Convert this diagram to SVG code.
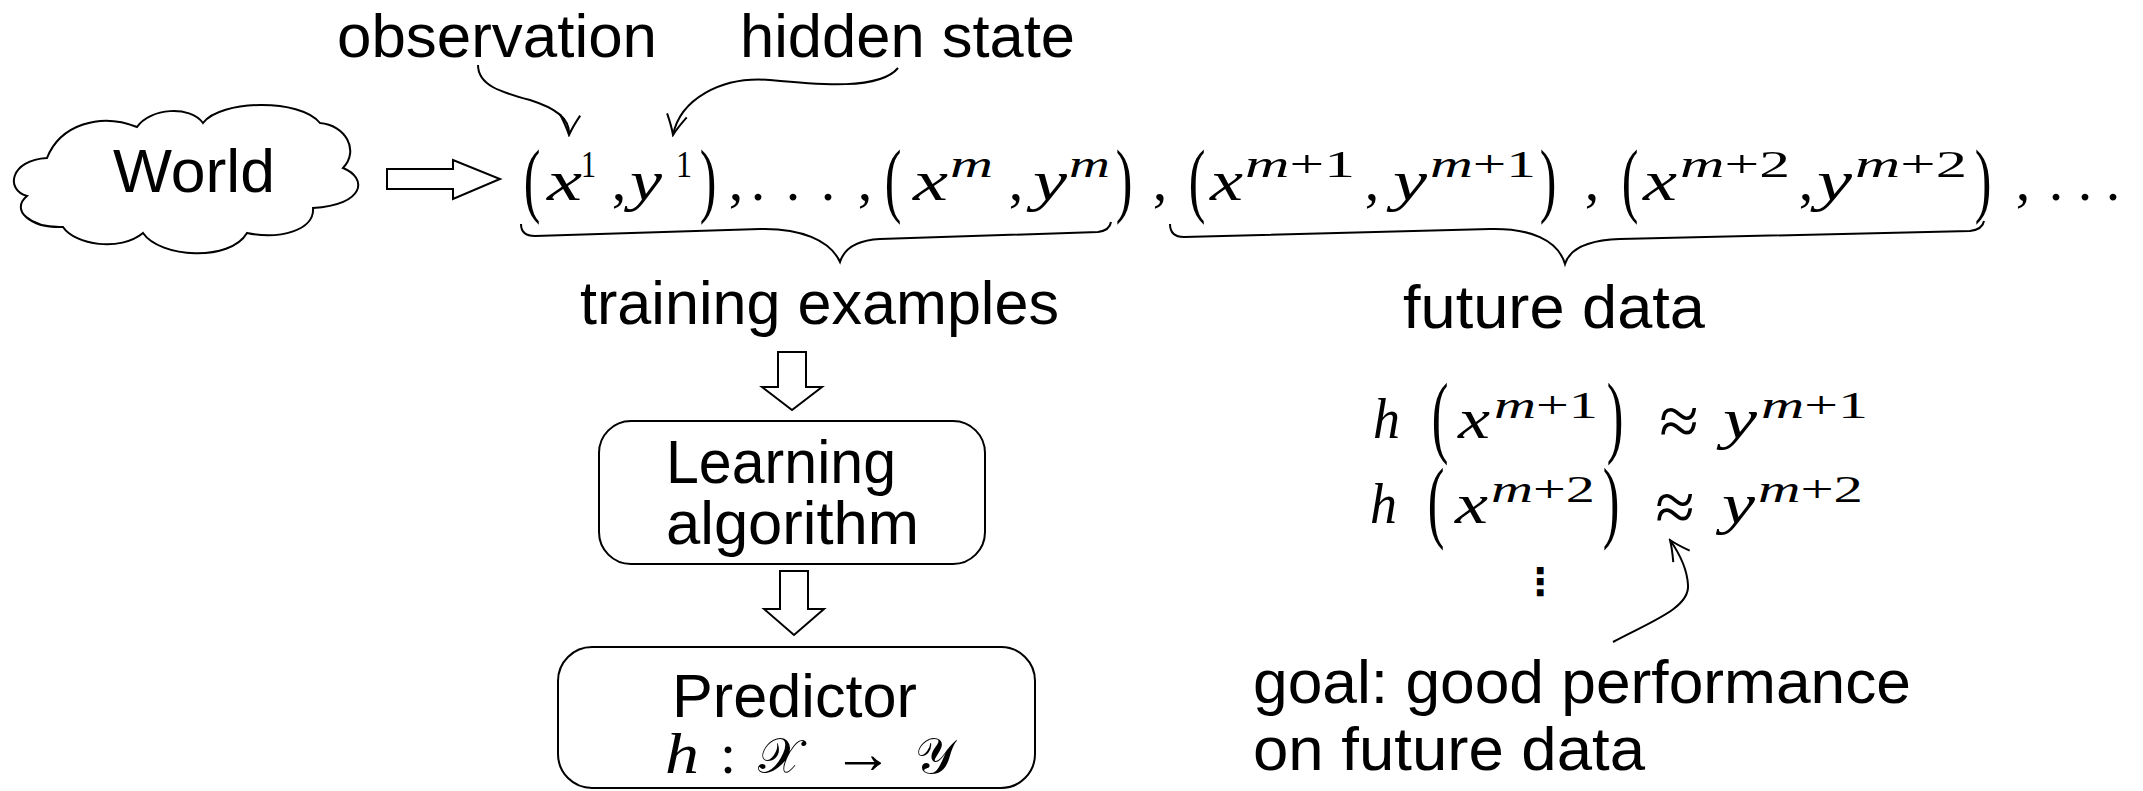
<svg xmlns="http://www.w3.org/2000/svg" width="2143" height="791" viewBox="0 0 2143 791">
<style>
.sans{font-family:'Liberation Sans',Arial,sans-serif;font-size:62px;fill:#000}
.mi{font-family:'Liberation Serif','Times New Roman',serif;font-style:italic;font-size:56px;fill:#000}
.mr{font-family:'Liberation Serif','Times New Roman',serif;font-size:58px;fill:#000}
.sup{font-family:'Liberation Serif','Times New Roman',serif;font-size:38px;fill:#000}
.supi{font-style:italic}
.par{font-family:'Liberation Serif','Times New Roman',serif;font-size:50px;fill:#000;text-anchor:middle}
.mid{text-anchor:middle}
.apx{font-family:'Liberation Serif','Times New Roman',serif;font-size:72px;fill:#000;text-anchor:middle}
.cal{font-family:'DejaVu Serif','DejaVu Sans','Liberation Serif',serif;font-size:50px;fill:#000}
.ln{fill:none;stroke:#000;stroke-width:2}
.blk{fill:#fff;stroke:#000;stroke-width:2;stroke-linejoin:miter}
.box{fill:#fff;stroke:#000;stroke-width:2}
</style>
<defs>
<marker id="ah" viewBox="-22 -12 24 24" refX="0" refY="0" markerWidth="24" markerHeight="24" markerUnits="userSpaceOnUse" orient="auto">
<path d="M-20,-10 Q-8,-3 0,0 Q-8,3 -20,10" fill="none" stroke="#000" stroke-width="2"/>
</marker>
</defs>
<rect width="2143" height="791" fill="#fff"/>

<g id="node-world">
<path class="ln" d="M47,158 C60,125 100,112 137,127 C150,108 190,105 203,123 C220,100 300,98 320,123 C345,125 360,150 343,168 C368,178 365,205 313,208 C315,230 280,240 247,233 C230,262 160,258 143,233 C120,252 75,245 63,227 C30,228 10,210 27,196 C5,190 10,160 47,158 Z"/>
<text class="sans" x="113" y="192" textLength="162" lengthAdjust="spacingAndGlyphs">World</text>
</g>

<g id="label-observation">
<text class="sans" x="337" y="57" textLength="320" lengthAdjust="spacingAndGlyphs">observation</text>
</g>
<g id="label-hidden-state">
<text class="sans" x="740" y="57" textLength="335" lengthAdjust="spacingAndGlyphs">hidden state</text>
</g>

<g id="sequence">
<text class="par" transform="translate(532,207) scale(1,1.65)">(</text>
<text class="mi" x="547" y="200" textLength="35" lengthAdjust="spacingAndGlyphs">x</text>
<text class="sup" x="581" y="177" textLength="15" lengthAdjust="spacingAndGlyphs">1</text>
<text class="mr mid" x="619" y="200">,</text>
<text class="mi" x="630" y="200" textLength="32" lengthAdjust="spacingAndGlyphs">y</text>
<text class="sup" x="676" y="177" textLength="16" lengthAdjust="spacingAndGlyphs">1</text>
<text class="par" transform="translate(708,207) scale(1,1.65)">)</text>
<text class="mr mid" x="736" y="200">,</text>
<text class="mr mid" x="758" y="200">.</text>
<text class="mr mid" x="793" y="200">.</text>
<text class="mr mid" x="828" y="200">.</text>
<text class="mr mid" x="865" y="200">,</text>
<text class="par" transform="translate(893,207) scale(1,1.65)">(</text>
<text class="mi" x="913" y="200" textLength="35" lengthAdjust="spacingAndGlyphs">x</text>
<text class="sup supi" x="950" y="177" textLength="43" lengthAdjust="spacingAndGlyphs">m</text>
<text class="mr mid" x="1016" y="200">,</text>
<text class="mi" x="1033" y="200" textLength="34" lengthAdjust="spacingAndGlyphs">y</text>
<text class="sup supi" x="1069" y="177" textLength="41" lengthAdjust="spacingAndGlyphs">m</text>
<text class="par" transform="translate(1124,207) scale(1,1.65)">)</text>
<text class="mr mid" x="1160" y="200">,</text>
<text class="par" transform="translate(1197,207) scale(1,1.65)">(</text>
<text class="mi" x="1210" y="200" textLength="33" lengthAdjust="spacingAndGlyphs">x</text>
<text class="sup" x="1245" y="177" textLength="110" lengthAdjust="spacingAndGlyphs"><tspan class="supi">m</tspan>+1</text>
<text class="mr mid" x="1372" y="200">,</text>
<text class="mi" x="1393" y="200" textLength="34" lengthAdjust="spacingAndGlyphs">y</text>
<text class="sup" x="1430" y="177" textLength="106" lengthAdjust="spacingAndGlyphs"><tspan class="supi">m</tspan>+1</text>
<text class="par" transform="translate(1548,207) scale(1,1.65)">)</text>
<text class="mr mid" x="1592" y="200">,</text>
<text class="par" transform="translate(1630,207) scale(1,1.65)">(</text>
<text class="mi" x="1643" y="200" textLength="34" lengthAdjust="spacingAndGlyphs">x</text>
<text class="sup" x="1680" y="177" textLength="110" lengthAdjust="spacingAndGlyphs"><tspan class="supi">m</tspan>+2</text>
<text class="mr mid" x="1806" y="200">,</text>
<text class="mi" x="1817" y="200" textLength="35" lengthAdjust="spacingAndGlyphs">y</text>
<text class="sup" x="1855" y="177" textLength="112" lengthAdjust="spacingAndGlyphs"><tspan class="supi">m</tspan>+2</text>
<text class="par" transform="translate(1983,207) scale(1,1.65)">)</text>
<text class="mr mid" x="2023" y="200">,</text>
<text class="mr mid" x="2056" y="200">.</text>
<text class="mr mid" x="2085" y="200">.</text>
<text class="mr mid" x="2113" y="200">.</text>
</g>

<g id="brace-training">
<path class="ln" d="M521,224 C521,232 525,236 535,236 L760,229 C800,228 830,240 840,262 C845,246 860,240 880,239 L1098,232 C1106,231 1110,228 1111,222"/>
</g>
<g id="brace-future">
<path class="ln" d="M1170,224 C1170,232 1174,237 1184,237 L1490,229 C1530,228 1558,240 1565,264 C1570,248 1590,240 1620,239 L1970,231 C1978,230 1983,227 1984,221"/>
</g>

<g id="label-training">
<text class="sans" x="580" y="324" textLength="479" lengthAdjust="spacingAndGlyphs">training examples</text>
</g>
<g id="label-future">
<text class="sans" x="1403" y="328" textLength="302" lengthAdjust="spacingAndGlyphs">future data</text>
</g>

<g id="node-learning">
<rect class="box" x="599" y="421" width="386" height="143" rx="32" ry="32"/>
<text class="sans" x="666" y="483" textLength="230" lengthAdjust="spacingAndGlyphs">Learning</text>
<text class="sans" x="666" y="544" textLength="253" lengthAdjust="spacingAndGlyphs">algorithm</text>
</g>

<g id="node-predictor">
<rect class="box" x="558" y="647" width="477" height="141" rx="34" ry="34"/>
<text class="sans" x="672" y="717" textLength="245" lengthAdjust="spacingAndGlyphs">Predictor</text>
<text class="mi" x="665" y="773" textLength="34" lengthAdjust="spacingAndGlyphs">h</text>
<text class="mr mid" x="728" y="773">:</text>
<text class="cal" x="758" y="773">𝒳</text>
<text class="mr mid" x="863" y="773" textLength="61" lengthAdjust="spacingAndGlyphs">→</text>
<text class="cal" x="915" y="773">𝒴</text>
</g>

<g id="equations">
<text class="mi" x="1373" y="438" textLength="27" lengthAdjust="spacingAndGlyphs">h</text>
<text class="par" transform="translate(1440,446) scale(1,1.8)">(</text>
<text class="mi" x="1458" y="438" textLength="32" lengthAdjust="spacingAndGlyphs">x</text>
<text class="sup" x="1494" y="418" textLength="104" lengthAdjust="spacingAndGlyphs"><tspan class="supi">m</tspan>+1</text>
<text class="par" transform="translate(1615,446) scale(1,1.8)">)</text>
<text class="apx" x="1679" y="445">≈</text>
<text class="mi" x="1723" y="438" textLength="34" lengthAdjust="spacingAndGlyphs">y</text>
<text class="sup" x="1761" y="418" textLength="107" lengthAdjust="spacingAndGlyphs"><tspan class="supi">m</tspan>+1</text>

<text class="mi" x="1370" y="523" textLength="27" lengthAdjust="spacingAndGlyphs">h</text>
<text class="par" transform="translate(1436,531) scale(1,1.8)">(</text>
<text class="mi" x="1455" y="523" textLength="33" lengthAdjust="spacingAndGlyphs">x</text>
<text class="sup" x="1491" y="502" textLength="104" lengthAdjust="spacingAndGlyphs"><tspan class="supi">m</tspan>+2</text>
<text class="par" transform="translate(1611,531) scale(1,1.8)">)</text>
<text class="apx" x="1675" y="531">≈</text>
<text class="mi" x="1722" y="523" textLength="33" lengthAdjust="spacingAndGlyphs">y</text>
<text class="sup" x="1758" y="502" textLength="105" lengthAdjust="spacingAndGlyphs"><tspan class="supi">m</tspan>+2</text>

<text x="1540" y="595" style="font-family:'DejaVu Sans',sans-serif;font-weight:bold;font-size:38px;text-anchor:middle">⋮</text>
</g>

<g id="label-goal">
<text class="sans" x="1253" y="703" textLength="658" lengthAdjust="spacingAndGlyphs">goal: good performance</text>
<text class="sans" x="1253" y="770" textLength="392" lengthAdjust="spacingAndGlyphs">on future data</text>
</g>

<g id="connectors">
<path class="blk" d="M387,169 H453 V160 L500,179 L453,199 V189 H387 Z"/>
<path class="blk" d="M778,352 H806 V387 H822 L792,410 L762,387 H778 Z"/>
<path class="blk" d="M780,571 H808 V609 H824 L794,635 L764,609 H780 Z"/>
<path class="ln" marker-end="url(#ah)" d="M478,65 C478,85 500,92 530,100 C555,108 570,118 569,135"/>
<path class="ln" marker-end="url(#ah)" d="M898,68 C880,90 820,85 770,80 C720,76 680,100 673,135"/>
<path class="ln" marker-end="url(#ah)" d="M1613,642 C1650,622 1690,608 1688,585 C1687,566 1677,550 1670,540"/>
</g>
</svg>
